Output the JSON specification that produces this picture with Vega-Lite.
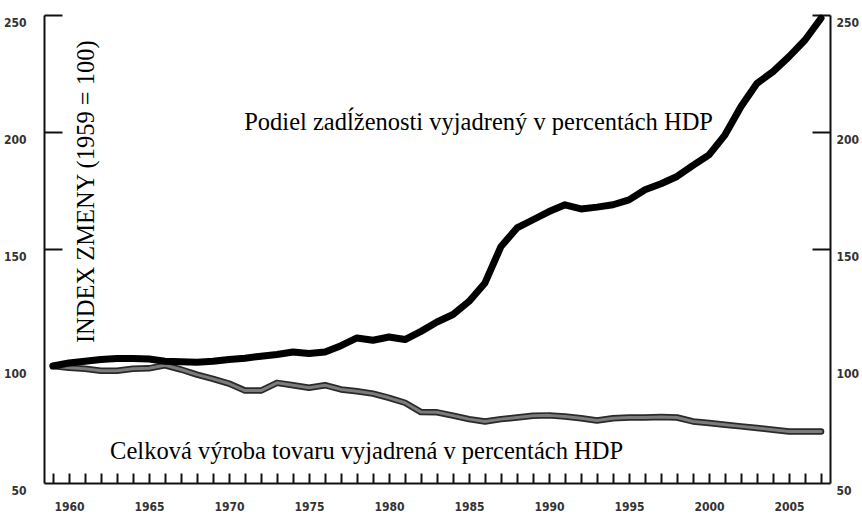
{
  "$schema": "https://vega.github.io/schema/vega-lite/v6.json",
  "width": 786,
  "height": 468,
  "autosize": {"type": "none"},
  "padding": {"left": 44, "top": 15, "right": 32, "bottom": 32},
  "background": "white",
  "config": {"view": {"stroke": null}},
  "datasets": {
    "series": [
      {"year": 1959, "s": "dlh", "value": 100},
      {"year": 1960, "s": "dlh", "value": 101.3},
      {"year": 1961, "s": "dlh", "value": 102},
      {"year": 1962, "s": "dlh", "value": 102.8},
      {"year": 1963, "s": "dlh", "value": 103.2},
      {"year": 1964, "s": "dlh", "value": 103.2},
      {"year": 1965, "s": "dlh", "value": 103},
      {"year": 1966, "s": "dlh", "value": 102},
      {"year": 1967, "s": "dlh", "value": 101.8},
      {"year": 1968, "s": "dlh", "value": 101.6},
      {"year": 1969, "s": "dlh", "value": 102},
      {"year": 1970, "s": "dlh", "value": 102.8},
      {"year": 1971, "s": "dlh", "value": 103.3},
      {"year": 1972, "s": "dlh", "value": 104.2},
      {"year": 1973, "s": "dlh", "value": 104.9},
      {"year": 1974, "s": "dlh", "value": 106},
      {"year": 1975, "s": "dlh", "value": 105.3},
      {"year": 1976, "s": "dlh", "value": 106},
      {"year": 1977, "s": "dlh", "value": 108.7},
      {"year": 1978, "s": "dlh", "value": 112},
      {"year": 1979, "s": "dlh", "value": 111},
      {"year": 1980, "s": "dlh", "value": 112.4},
      {"year": 1981, "s": "dlh", "value": 111.3},
      {"year": 1982, "s": "dlh", "value": 114.8},
      {"year": 1983, "s": "dlh", "value": 118.8},
      {"year": 1984, "s": "dlh", "value": 122},
      {"year": 1985, "s": "dlh", "value": 127.6},
      {"year": 1986, "s": "dlh", "value": 135.5},
      {"year": 1987, "s": "dlh", "value": 151.1},
      {"year": 1988, "s": "dlh", "value": 159},
      {"year": 1989, "s": "dlh", "value": 162.5},
      {"year": 1990, "s": "dlh", "value": 166},
      {"year": 1991, "s": "dlh", "value": 168.9},
      {"year": 1992, "s": "dlh", "value": 167.1},
      {"year": 1993, "s": "dlh", "value": 167.9},
      {"year": 1994, "s": "dlh", "value": 168.9},
      {"year": 1995, "s": "dlh", "value": 171},
      {"year": 1996, "s": "dlh", "value": 175.3},
      {"year": 1997, "s": "dlh", "value": 177.9},
      {"year": 1998, "s": "dlh", "value": 181},
      {"year": 1999, "s": "dlh", "value": 185.7},
      {"year": 2000, "s": "dlh", "value": 190.2},
      {"year": 2001, "s": "dlh", "value": 198.8},
      {"year": 2002, "s": "dlh", "value": 210.9},
      {"year": 2003, "s": "dlh", "value": 220.8},
      {"year": 2004, "s": "dlh", "value": 225.8},
      {"year": 2005, "s": "dlh", "value": 232.2},
      {"year": 2006, "s": "dlh", "value": 239.3},
      {"year": 2007, "s": "dlh", "value": 248.6},
      {"year": 1959, "s": "vyr", "value": 100},
      {"year": 1960, "s": "vyr", "value": 99.2},
      {"year": 1961, "s": "vyr", "value": 98.8},
      {"year": 1962, "s": "vyr", "value": 98},
      {"year": 1963, "s": "vyr", "value": 98},
      {"year": 1964, "s": "vyr", "value": 98.8},
      {"year": 1965, "s": "vyr", "value": 99},
      {"year": 1966, "s": "vyr", "value": 100.3},
      {"year": 1967, "s": "vyr", "value": 98.5},
      {"year": 1968, "s": "vyr", "value": 96.3},
      {"year": 1969, "s": "vyr", "value": 94.5},
      {"year": 1970, "s": "vyr", "value": 92.5},
      {"year": 1971, "s": "vyr", "value": 89.5},
      {"year": 1972, "s": "vyr", "value": 89.5},
      {"year": 1973, "s": "vyr", "value": 92.8},
      {"year": 1974, "s": "vyr", "value": 91.8},
      {"year": 1975, "s": "vyr", "value": 90.7},
      {"year": 1976, "s": "vyr", "value": 91.8},
      {"year": 1977, "s": "vyr", "value": 90},
      {"year": 1978, "s": "vyr", "value": 89.2},
      {"year": 1979, "s": "vyr", "value": 88.2},
      {"year": 1980, "s": "vyr", "value": 86.4},
      {"year": 1981, "s": "vyr", "value": 84.3},
      {"year": 1982, "s": "vyr", "value": 80.3},
      {"year": 1983, "s": "vyr", "value": 80.2},
      {"year": 1984, "s": "vyr", "value": 78.8},
      {"year": 1985, "s": "vyr", "value": 77.3},
      {"year": 1986, "s": "vyr", "value": 76.3},
      {"year": 1987, "s": "vyr", "value": 77.3},
      {"year": 1988, "s": "vyr", "value": 78},
      {"year": 1989, "s": "vyr", "value": 78.7},
      {"year": 1990, "s": "vyr", "value": 78.9},
      {"year": 1991, "s": "vyr", "value": 78.4},
      {"year": 1992, "s": "vyr", "value": 77.7},
      {"year": 1993, "s": "vyr", "value": 76.7},
      {"year": 1994, "s": "vyr", "value": 77.7},
      {"year": 1995, "s": "vyr", "value": 78},
      {"year": 1996, "s": "vyr", "value": 78},
      {"year": 1997, "s": "vyr", "value": 78.2},
      {"year": 1998, "s": "vyr", "value": 78},
      {"year": 1999, "s": "vyr", "value": 76.3},
      {"year": 2000, "s": "vyr", "value": 75.6},
      {"year": 2001, "s": "vyr", "value": 74.9},
      {"year": 2002, "s": "vyr", "value": 74.2},
      {"year": 2003, "s": "vyr", "value": 73.5},
      {"year": 2004, "s": "vyr", "value": 72.8},
      {"year": 2005, "s": "vyr", "value": 72},
      {"year": 2006, "s": "vyr", "value": 72},
      {"year": 2007, "s": "vyr", "value": 72}
    ],
    "notes": [
      {"text": "Podiel zadĺženosti vyjadrený v percentách HDP", "year": 1985.6, "value": 204},
      {"text": "Celková výroba tovaru vyjadrená v percentách HDP", "year": 1978.6, "value": 63.1}
    ],
    "title": [
      {"text": "INDEX ZMENY (1959 = 100)", "year": 1961.1, "value": 174.5}
    ]
  },
  "encoding": {
    "x": {"field": "year", "type": "quantitative",
      "scale": {"domain": [1958.44, 2007.56], "nice": false, "zero": false},
      "axis": {
        "values": [1959,1960,1961,1962,1963,1964,1965,1966,1967,1968,1969,1970,1971,1972,1973,1974,1975,1976,1977,1978,1979,1980,1981,1982,1983,1984,1985,1986,1987,1988,1989,1990,1991,1992,1993,1994,1995,1996,1997,1998,1999,2000,2001,2002,2003,2004,2005,2006,2007],
        "labelExpr": "datum.value % 5 === 0 ? datum.value : ''",
        "title": null, "grid": false,
        "domainColor": "#111", "domainWidth": 2,
        "tickColor": "#111", "tickWidth": 2, "tickSize": -10,
        "labelPadding": 28, "labelFont": "DejaVu Sans Condensed", "labelFontWeight": "bold",
        "labelFontSize": 12, "labelColor": "#333", "labelOverlap": false, "labelFlush": false
      }
    }
  },
  "layer": [
    {
      "data": {"name": "series"},
      "transform": [{"filter": "datum.s === 'vyr'"}],
      "mark": {"type": "line", "color": "#2a2a2a", "strokeWidth": 6.5, "strokeCap": "round", "strokeJoin": "round"},
      "encoding": {
        "y": {"field": "value", "type": "quantitative",
          "scale": {"domain": [50, 250], "nice": false, "zero": false},
          "axis": {
            "values": [50, 100, 150, 200, 250], "title": null, "grid": false,
            "domainColor": "#111", "domainWidth": 2,
            "tickColor": "#111", "tickWidth": 2, "tickSize": -18,
            "tickOpacity": {"condition": {"test": "datum.value < 150", "value": 0}, "value": 1},
            "labelPadding": 36, "labelOffset": 7,
            "labelFont": "DejaVu Sans Condensed", "labelFontWeight": "bold",
            "labelFontSize": 12, "labelColor": "#333"
          }
        }
      }
    },
    {
      "data": {"name": "series"},
      "transform": [{"filter": "datum.s === 'vyr'"}],
      "mark": {"type": "line", "color": "#7c7c7c", "strokeWidth": 3, "strokeCap": "round", "strokeJoin": "round"},
      "encoding": {
        "y": {"field": "value", "type": "quantitative", "scale": {"domain": [50, 250], "nice": false, "zero": false}, "axis": null}
      }
    },
    {
      "data": {"name": "series"},
      "transform": [{"filter": "datum.s === 'dlh'"}],
      "mark": {"type": "line", "color": "#000", "strokeWidth": 7, "strokeCap": "round", "strokeJoin": "round"},
      "encoding": {
        "y": {"field": "value", "type": "quantitative", "scale": {"domain": [50, 250], "nice": false, "zero": false}, "axis": null}
      }
    },
    {
      "data": {"name": "notes"},
      "mark": {"type": "text", "font": "Liberation Serif", "fontSize": 24.5, "color": "#000", "align": "center", "baseline": "middle"},
      "encoding": {
        "y": {"field": "value", "type": "quantitative", "scale": {"domain": [50, 250], "nice": false, "zero": false}, "axis": null},
        "text": {"field": "text"}
      }
    },
    {
      "data": {"name": "title"},
      "mark": {"type": "text", "font": "Liberation Serif", "fontSize": 24.5, "color": "#000", "align": "center", "baseline": "middle", "angle": 270},
      "encoding": {
        "y": {"field": "value", "type": "quantitative", "scale": {"domain": [50, 250], "nice": false, "zero": false}, "axis": null},
        "text": {"field": "text"}
      }
    },
    {
      "data": {"name": "series"},
      "transform": [{"filter": "datum.s === 'dlh'"}],
      "mark": {"type": "line", "opacity": 0},
      "encoding": {
        "y": {"field": "value", "type": "quantitative",
          "scale": {"domain": [50, 250], "nice": false, "zero": false},
          "axis": {
            "orient": "right",
            "values": [50, 100, 150, 200, 250], "title": null, "grid": false,
            "domainColor": "#111", "domainWidth": 2,
            "tickColor": "#111", "tickWidth": 2, "tickSize": -18,
            "tickOpacity": {"condition": {"test": "datum.value < 150", "value": 0}, "value": 1},
            "labelPadding": 24, "labelOffset": 7,
            "labelFont": "DejaVu Sans Condensed", "labelFontWeight": "bold",
            "labelFontSize": 12, "labelColor": "#333"
          }
        }
      }
    }
  ],
  "resolve": {"scale": {"y": "independent"}}
}
